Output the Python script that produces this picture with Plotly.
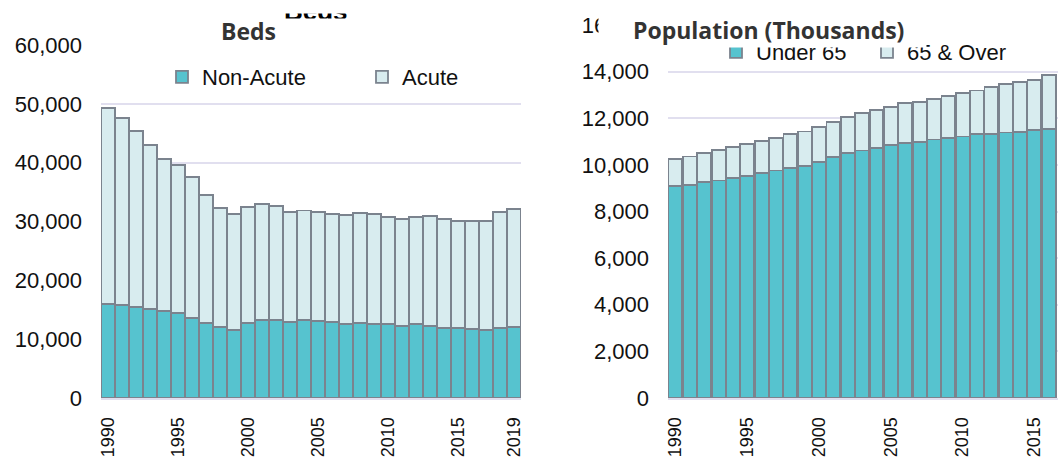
import plotly.graph_objects as go

# ---------------------------------------------------------------------------
# Data
# ---------------------------------------------------------------------------
years = list(range(1990, 2020))
beds_non_acute = [15930, 15810, 15520, 15180, 14790, 14400, 13650, 12800, 12020, 11560,
                  12800, 13200, 13260, 12870, 13320, 13140, 12870, 12580, 12750, 12580,
                  12530, 12190, 12530, 12240, 11950, 11850, 11680, 11560, 11900, 12070]
beds_acute = [33310, 31840, 29810, 27770, 25840, 25210, 23860, 21710, 20280, 19770,
              19610, 19830, 19330, 18800, 18550, 18530, 18460, 18530, 18750, 18750,
              18240, 18190, 18180, 18700, 18430, 18240, 18460, 18580, 19770, 20060]

pop_years = list(range(1990, 2017))
pop_under_65 = [9090, 9150, 9260, 9330, 9430, 9530, 9650, 9760, 9860, 9960,
                10130, 10340, 10510, 10620, 10730, 10850, 10940, 10990, 11090, 11150,
                11220, 11310, 11320, 11390, 11420, 11480, 11550]
pop_65_over = [1160, 1210, 1250, 1310, 1330, 1360, 1380, 1400, 1450, 1470,
               1490, 1500, 1530, 1595, 1620, 1630, 1700, 1720, 1740, 1790,
               1860, 1880, 2020, 2080, 2150, 2170, 2290]

year_ticks = [1990, 1995, 2000, 2005, 2010, 2015, 2019]

# ---------------------------------------------------------------------------
# Style
# ---------------------------------------------------------------------------
W, H = 1058, 457
COLOR_DARK  = "#56c3cf"
COLOR_LIGHT = "#d8ecef"
EDGE        = "#7b838e"
GRID        = "#e1dfef"
TICK_FONT   = dict(family="Liberation Sans, Arial", size=22, color="#111111")
XTICK_FONT  = dict(family="Liberation Sans, Arial", size=18, color="#111111")
LEG_FONT    = dict(family="Liberation Sans, Arial", size=22, color="#111111")
TITLE_FONT  = dict(family="Open Sans", size=23, color="#333333", weight="bold")


def px_x(x):
    return x / W


def px_y(y):
    return (H - y) / H


def bar(x, y, name, color, legend):
    return go.Bar(
        x=x, y=y, name=name, legend=legend,
        marker=dict(color=color, line=dict(color=EDGE, width=1.8)),
    )


def white_box(left, top, width, height):
    return dict(text=" ", xref="paper", yref="paper", x=px_x(left), y=px_y(top),
                xanchor="left", yanchor="top", showarrow=False, width=width, height=height,
                bgcolor="white", borderpad=0)


fig = go.Figure()
fig.add_trace(bar(years, beds_non_acute, "Non-Acute", COLOR_DARK, "legend"))
fig.add_trace(bar(years, beds_acute, "Acute", COLOR_LIGHT, "legend"))
fig.add_trace(bar(pop_years, pop_under_65, "Under 65", COLOR_DARK, "legend2").update(xaxis="x2", yaxis="y2"))
fig.add_trace(bar(pop_years, pop_65_over, "65 & Over", COLOR_LIGHT, "legend2").update(xaxis="x2", yaxis="y2"))

xaxis_common = dict(
    tickmode="array", tickvals=year_ticks, ticktext=[str(v) for v in year_ticks],
    tickangle=-90, tickfont=XTICK_FONT, showgrid=False, zeroline=False,
    showline=True, linecolor=GRID, linewidth=2, ticks="", ticklabelstandoff=10,
    automargin=False,
)
yaxis_common = dict(
    tickformat=",", tickfont=TICK_FONT, showgrid=True, gridcolor=GRID, gridwidth=2,
    zeroline=False, showline=False, ticks="", ticklabelstandoff=18, automargin=False,
)

fig.update_layout(
    width=W, height=H,
    margin=dict(l=0, r=0, t=0, b=0, autoexpand=False),
    paper_bgcolor="white", plot_bgcolor="white",
    barmode="stack", bargap=0.04,
    xaxis=dict(xaxis_common, domain=[px_x(101), px_x(521)], range=[1989.5, 2019.5], anchor="y"),
    yaxis=dict(yaxis_common, domain=[px_y(398), px_y(45)], range=[0, 60000], dtick=10000, anchor="x"),
    xaxis2=dict(xaxis_common, domain=[px_x(668), 1.0], range=[1989.48, 2016.64], anchor="y2"),
    yaxis2=dict(yaxis_common, domain=[px_y(398), px_y(25)], range=[0, 16000], dtick=2000, anchor="x2"),
    legend=dict(orientation="h", x=px_x(162), y=px_y(77), xanchor="left", yanchor="middle",
                font=LEG_FONT, bgcolor="rgba(0,0,0,0)", traceorder="normal",
                entrywidth=155, entrywidthmode="pixels"),
    legend2=dict(orientation="h", x=px_x(716), y=px_y(52), xanchor="left", yanchor="middle",
                 font=LEG_FONT, bgcolor="rgba(0,0,0,0)", traceorder="normal",
                 entrywidth=106, entrywidthmode="pixels"),
    annotations=[
        # clipped duplicate of the left title peeking out at the top
        dict(text="<b>Beds</b>", xref="paper", yref="paper", x=px_x(316), y=px_y(11.5),
             xanchor="center", yanchor="middle", showarrow=False,
             font=dict(family="Liberation Sans, Arial", size=26, color="#000000")),
        white_box(260, 0, 110, 12),
        # white title boxes
        white_box(90, 18, 337, 29),
        white_box(598, 10, 327, 36),
        dict(text="Beds", xref="paper", yref="paper", x=px_x(248), y=px_y(31),
             xanchor="center", yanchor="middle", showarrow=False, font=TITLE_FONT),
        dict(text="Population (Thousands)", xref="paper", yref="paper", x=px_x(769), y=px_y(30),
             xanchor="center", yanchor="middle", showarrow=False, font=TITLE_FONT),
    ],
)

# the page's default body margin would shift the figure by 8px
fig.write_html("out.html", config={"displayModeBar": False},
               post_script="document.body.style.margin = '0';")
